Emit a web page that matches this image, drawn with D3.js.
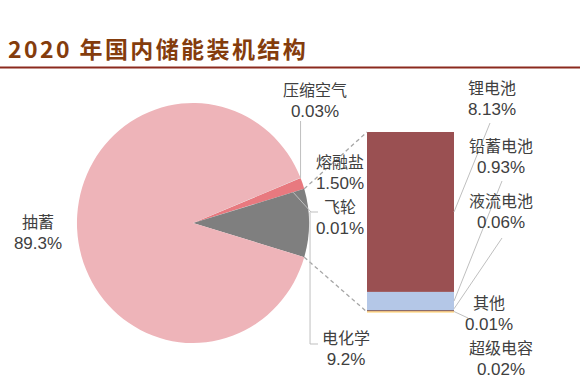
<!DOCTYPE html>
<html><head><meta charset="utf-8">
<script src="https://cdn.jsdelivr.net/npm/d3@7"></script>
<style>body{margin:0;background:#fff;}svg{display:block;}</style>
</head><body>
<svg id="c" width="580" height="380"></svg>
<script>
const titleText = '2020 年国内储能装机结构';
// pie slices in drawing order (clockwise from 熔融盐)
const pieLabels = ['熔融盐', '飞轮', '电化学', '抽蓄', '压缩空气'];
const pieValues = [1.5, 0.01, 9.2, 89.3, 0.03];
const pieText = ['1.50%', '0.01%', '9.2%', '89.3%', '0.03%'];
const pieColors = ['#E8797F', '#C9C9C9', '#7F7F7F', '#EEB4B9', '#D9D9D9'];
// bar (electrochemistry breakdown), top to bottom
const barLabels = ['锂电池', '铅蓄电池', '液流电池', '其他', '超级电容'];
const barValues = [8.13, 0.93, 0.06, 0.01, 0.02];
const barText = ['8.13%', '0.93%', '0.06%', '0.01%', '0.02%'];
const barColors = ['#9A5052', '#B4C7E7', '#6E4545', '#F4B183', '#FFD966'];

const svg = d3.select('#c');
const cjk = '"Noto Sans CJK SC", sans-serif';
const num = '"Liberation Sans", Arial, sans-serif';
const txtCol = '#404040';

// title
svg.append('text').attr('x', 8).attr('y', 58).attr('font-family', cjk)
  .attr('font-weight', 700).attr('font-size', 23).attr('letter-spacing', 2.4)
  .attr('fill', '#843C0C').text(titleText);
svg.append('rect').attr('x', 0).attr('y', 66.5).attr('width', 580).attr('height', 2).attr('fill', '#8B2A1E');

// pie
const cx = 193, cy = 223, R = 120, sx = 0.967;
const total = d3.sum(pieValues);
const start = Math.PI / 2 - 2 * Math.PI * (pieValues[0] + pieValues[1] + pieValues[2] / 2) / total;
const pie = d3.pie().sort(null).value(d => d).startAngle(start).endAngle(start + 2 * Math.PI);
const arcs = pie(pieValues);
const arc = d3.arc().innerRadius(0).outerRadius(R);
const g = svg.append('g').attr('transform', `translate(${cx},${cy}) scale(${sx},1)`);
g.selectAll('path').data(arcs).join('path').attr('d', arc).attr('fill', (d, i) => pieColors[i]);
const pt = (a, r = R) => [cx + r * sx * Math.sin(a), cy - r * Math.cos(a)];

// bar
const barTotal = d3.sum(barValues);
const y = d3.scaleLinear().domain([0, barTotal]).range([312, 132]);
const x = d3.scaleBand().domain(['电化学']).range([367, 454]).padding(0);
const cum = d3.cumsum(barValues);
const segs = barValues.map((v, i) => ({ v, i, top: barTotal - (cum[i] - v), bot: barTotal - cum[i] }));
svg.selectAll('rect.seg').data(segs).join('rect').attr('class', 'seg')
  .attr('x', x('电化学')).attr('width', x.bandwidth())
  .attr('y', d => y(d.top)).attr('height', d => Math.max(y(d.bot) - y(d.top), 0.8))
  .attr('fill', d => barColors[d.i]);

// dashed connectors from electrochemistry slice
const ec = arcs[2];
const p0 = pt(ec.startAngle), p1 = pt(ec.endAngle);
const conn = [[p0, [x('电化学'), y(barTotal)]], [p1, [x('电化学'), y(0)]]];
svg.selectAll('line.conn').data(conn).join('line').attr('class', 'conn')
  .attr('x1', d => d[0][0]).attr('y1', d => d[0][1]).attr('x2', d => d[1][0]).attr('y2', d => d[1][1])
  .attr('stroke', '#A6A6A6').attr('stroke-width', 1.3).attr('stroke-dasharray', '4,3');

// leader lines
const lead = d3.line();
const leaders = [];
const caPt = pt(arcs[4].startAngle + (arcs[4].endAngle - arcs[4].startAngle) / 2);
leaders.push([caPt, [caPt[0], 121]]);
const fwPt = pt((arcs[1].startAngle + arcs[1].endAngle) / 2, R * 0.9);
leaders.push([fwPt, [311, 212], [318, 212]]);
const ecPt = pt((ec.startAngle + ec.endAngle) / 2);
leaders.push([[ecPt[0] + 1, 212], [ecPt[0] + 1, 344], [318, 344]]);
const bx = x('电化学') + x.bandwidth();
const mid = d => y((d.top + d.bot) / 2);
leaders.push([[bx, mid(segs[0])], [490, 123]]);
leaders.push([[bx, mid(segs[1])], [502, 181]]);
leaders.push([[bx, mid(segs[2]) - 2], [502, 238]]);
leaders.push([[bx, mid(segs[3])], [468, 318]]);
svg.selectAll('path.lead').data(leaders).join('path').attr('class', 'lead')
  .attr('d', lead).attr('fill', 'none').attr('stroke', '#BFBFBF').attr('stroke-width', 1);

// labels
const labels = [
  { n: pieLabels[3], v: pieText[3], x: 38, y: 228 },
  { n: pieLabels[4], v: pieText[4], x: 315, y: 96 },
  { n: pieLabels[0], v: pieText[0], x: 340, y: 168 },
  { n: pieLabels[1], v: pieText[1], x: 340, y: 213 },
  { n: pieLabels[2], v: pieText[2], x: 346, y: 344 },
  { n: barLabels[0], v: barText[0], x: 492, y: 94 },
  { n: barLabels[1], v: barText[1], x: 501, y: 152 },
  { n: barLabels[2], v: barText[2], x: 501, y: 207 },
  { n: barLabels[3], v: barText[3], x: 489, y: 309 },
  { n: barLabels[4], v: barText[4], x: 501, y: 354 }
];
const lg = svg.selectAll('g.lab').data(labels).join('g').attr('class', 'lab');
lg.append('text').attr('x', d => d.x).attr('y', d => d.y).attr('text-anchor', 'middle')
  .attr('font-family', cjk).attr('font-size', 16).attr('fill', txtCol).text(d => d.n);
lg.append('text').attr('x', d => d.x).attr('y', d => d.y + 21).attr('text-anchor', 'middle')
  .attr('font-family', num).attr('font-size', 17).attr('fill', txtCol).text(d => d.v);
</script>
</body></html>
